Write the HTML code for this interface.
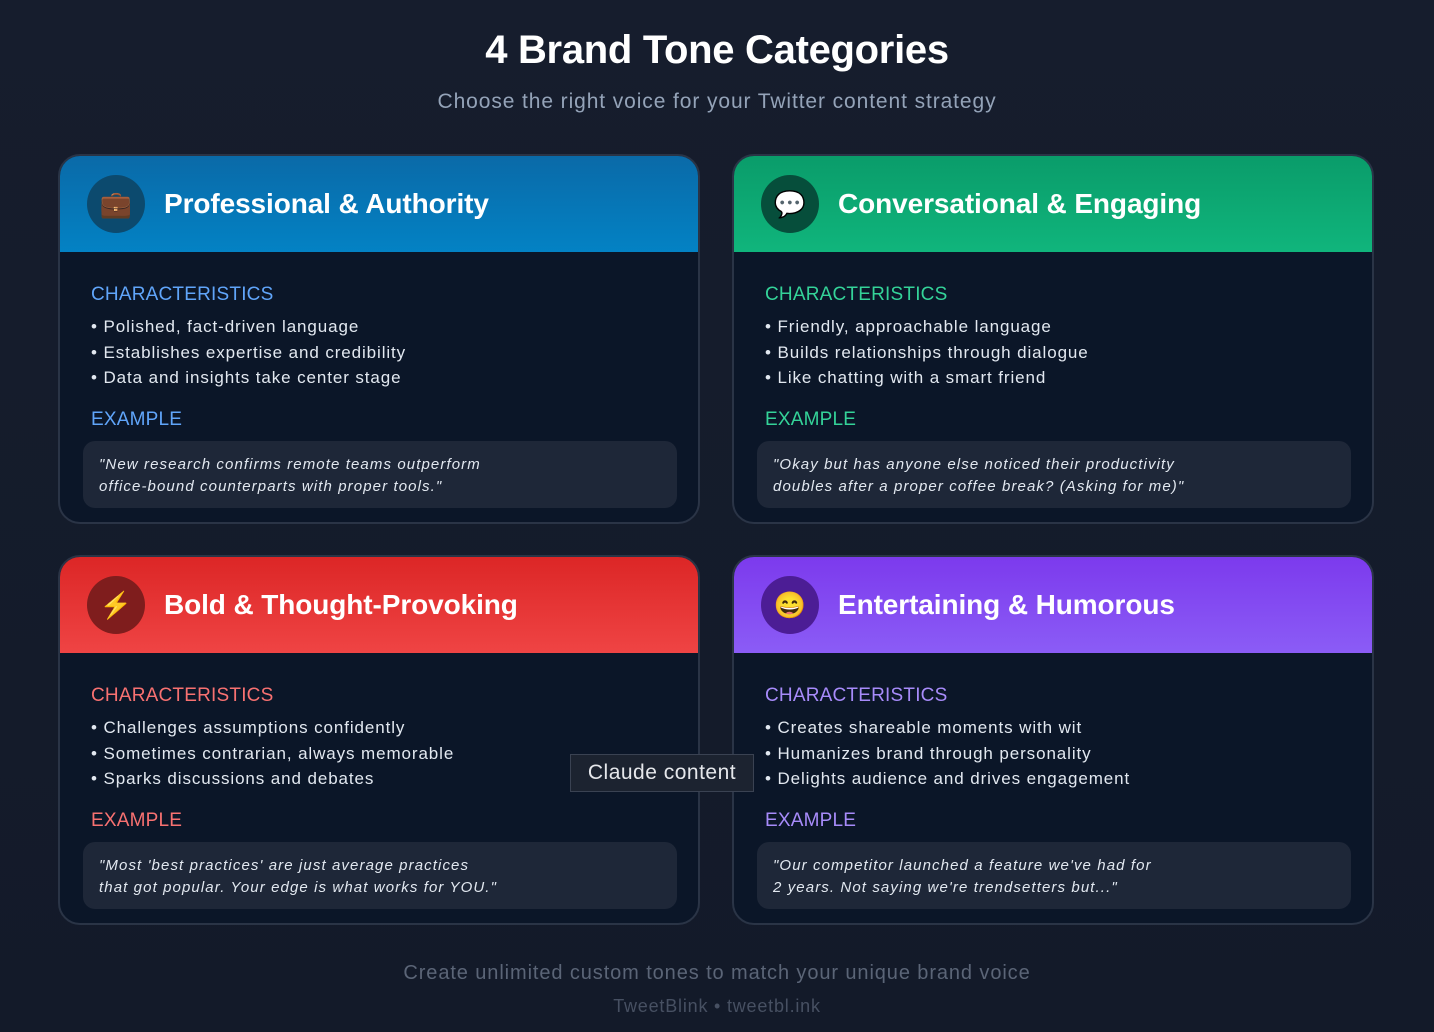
<!DOCTYPE html>
<html><head><meta charset="utf-8"><style>
*{margin:0;padding:0;box-sizing:border-box}
body{width:1434px;height:1032px;background:linear-gradient(180deg,#161d2d,#131a29);font-family:"Liberation Sans","Noto Sans CJK SC",sans-serif;position:relative;overflow:hidden;color:#e2e8f0}
h1{position:absolute;top:28px;width:100%;text-align:center;font-size:40px;font-weight:bold;color:#fff;letter-spacing:-0.3px}
.sub{position:absolute;top:90px;width:100%;text-align:center;font-size:21px;color:#94a3b8;letter-spacing:0.9px}
.card{position:absolute;width:642px;height:370px;border-radius:22px;background:#0b1628;border:2px solid #2a3446;overflow:hidden}
.hd{height:96px;position:relative}
.ic{position:absolute;left:27px;top:19px;width:58px;height:58px;border-radius:50%;display:flex;align-items:center;justify-content:center;font-size:26px}
.tt{position:absolute;left:104px;top:32px;font-size:28px;font-weight:bold;color:#fff;letter-spacing:-0.1px}
.lbl{position:absolute;left:31px;font-size:19px;letter-spacing:.2px}
.ul{position:absolute;left:31px;top:158px;font-size:17px;line-height:25.5px;color:#e2e8f0;letter-spacing:.9px}
.ex{position:absolute;left:23px;top:285px;width:594px;height:67px;border-radius:12px;background:#1e2738;padding:13px 16px;font-style:italic;font-size:15px;line-height:22px;color:#e2e8f0;letter-spacing:1.1px}
.foot{position:absolute;width:100%;text-align:center;color:#5b6577}
.tip{position:absolute;left:570px;top:754px;width:184px;height:38px;background:#1c2330;border:1px solid #3a4252;color:#e5e7eb;font-size:21px;text-align:center;line-height:36px;letter-spacing:.5px}
</style></head><body>
<h1>4 Brand Tone Categories</h1>
<div class="sub">Choose the right voice for your Twitter content strategy</div>

<div class="card" style="left:58px;top:154px">
 <div class="hd" style="background:linear-gradient(180deg,#0a6aa8,#0382c4)"><div class="ic" style="background:#0c4a6e">💼</div><div class="tt">Professional &amp; Authority</div></div>
 <div class="lbl" style="top:128px;color:#60a5fa">CHARACTERISTICS</div>
 <div class="ul">• Polished, fact-driven language<br>• Establishes expertise and credibility<br>• Data and insights take center stage</div>
 <div class="lbl" style="top:253px;color:#60a5fa">EXAMPLE</div>
 <div class="ex">"New research confirms remote teams outperform<br>office-bound counterparts with proper tools."</div>
</div>

<div class="card" style="left:732px;top:154px">
 <div class="hd" style="background:linear-gradient(180deg,#0a9c6a,#10b57c)"><div class="ic" style="background:#064e3b">💬</div><div class="tt">Conversational &amp; Engaging</div></div>
 <div class="lbl" style="top:128px;color:#34d399">CHARACTERISTICS</div>
 <div class="ul">• Friendly, approachable language<br>• Builds relationships through dialogue<br>• Like chatting with a smart friend</div>
 <div class="lbl" style="top:253px;color:#34d399">EXAMPLE</div>
 <div class="ex">"Okay but has anyone else noticed their productivity<br>doubles after a proper coffee break? (Asking for me)"</div>
</div>

<div class="card" style="left:58px;top:555px">
 <div class="hd" style="background:linear-gradient(180deg,#dc2626,#ef4444)"><div class="ic" style="background:#7f1d1d">⚡</div><div class="tt">Bold &amp; Thought-Provoking</div></div>
 <div class="lbl" style="top:128px;color:#f87171">CHARACTERISTICS</div>
 <div class="ul">• Challenges assumptions confidently<br>• Sometimes contrarian, always memorable<br>• Sparks discussions and debates</div>
 <div class="lbl" style="top:253px;color:#f87171">EXAMPLE</div>
 <div class="ex">"Most 'best practices' are just average practices<br>that got popular. Your edge is what works for YOU."</div>
</div>

<div class="card" style="left:732px;top:555px">
 <div class="hd" style="background:linear-gradient(180deg,#7c3aed,#8b5cf6)"><div class="ic" style="background:#4c1d95">😄</div><div class="tt">Entertaining &amp; Humorous</div></div>
 <div class="lbl" style="top:128px;color:#a78bfa">CHARACTERISTICS</div>
 <div class="ul">• Creates shareable moments with wit<br>• Humanizes brand through personality<br>• Delights audience and drives engagement</div>
 <div class="lbl" style="top:253px;color:#a78bfa">EXAMPLE</div>
 <div class="ex">"Our competitor launched a feature we've had for<br>2 years. Not saying we're trendsetters but..."</div>
</div>

<div class="tip">Claude content</div>
<div class="foot" style="top:962px;font-size:20px;letter-spacing:0.9px">Create unlimited custom tones to match your unique brand voice</div>
<div class="foot" style="top:996px;font-size:18px;color:#475062;letter-spacing:0.8px">TweetBlink • tweetbl.ink</div>
</body></html>
